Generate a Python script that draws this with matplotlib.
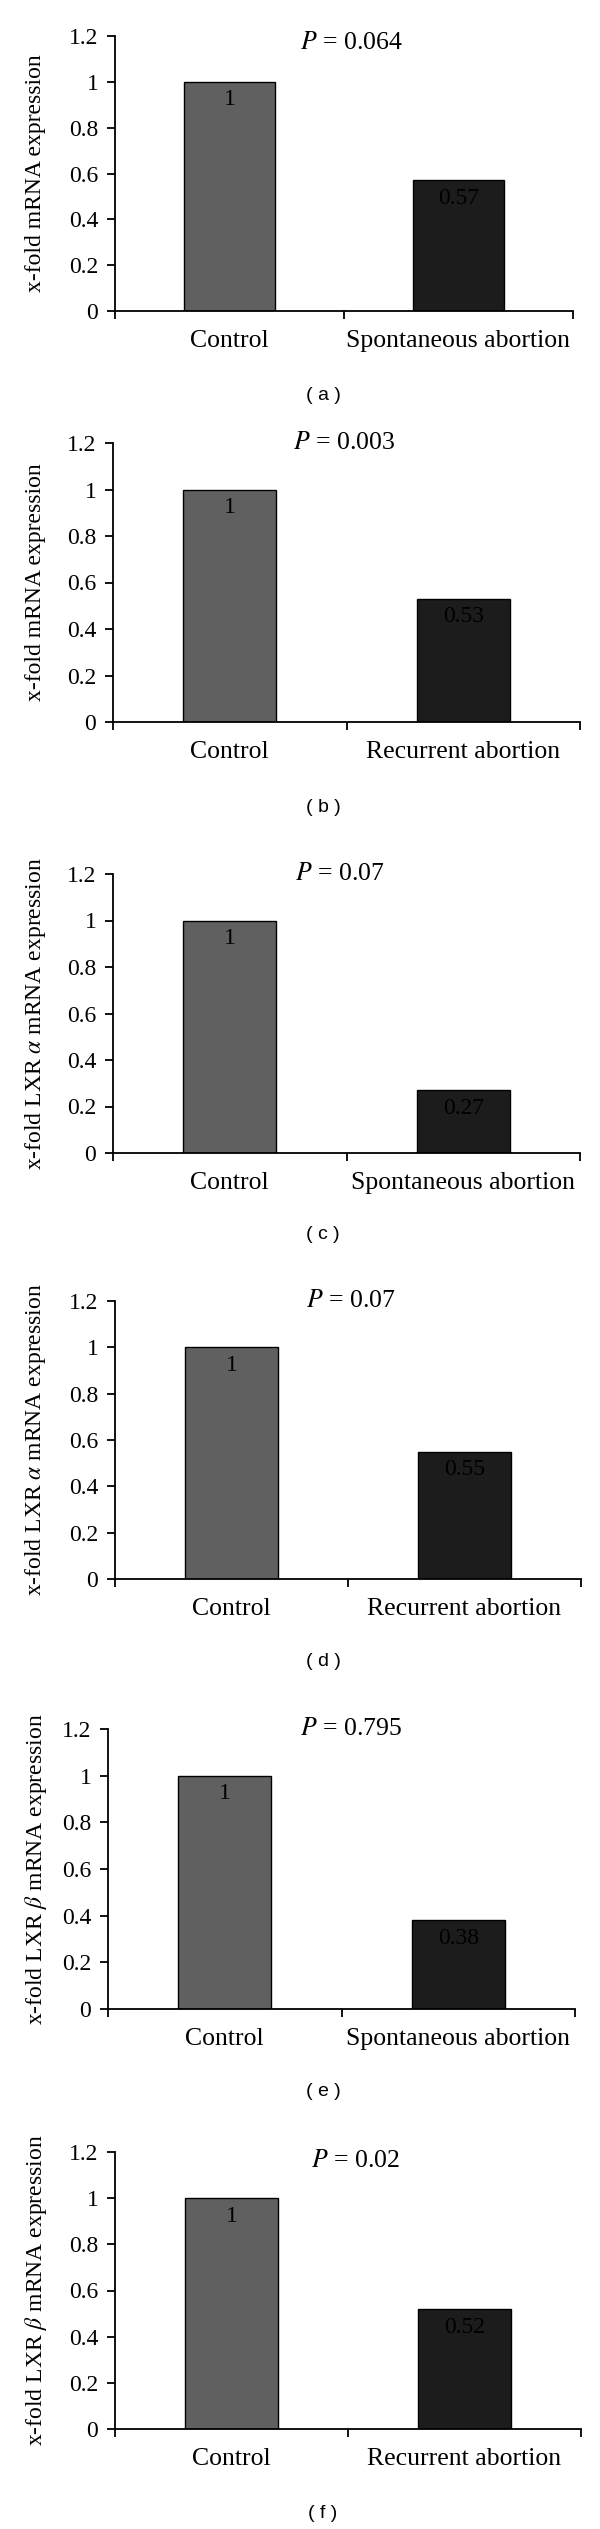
import matplotlib
matplotlib.use("Agg")
import matplotlib.pyplot as plt
from matplotlib.ticker import FuncFormatter

# ---- data ----
cats_spont = ["Control", "Spontaneous abortion"]
cats_recur = ["Control", "Recurrent abortion"]

values_a = [1, 0.57]
values_b = [1, 0.53]
values_c = [1, 0.27]
values_d = [1, 0.55]
values_e = [1, 0.38]
values_f = [1, 0.52]

p_values = ["0.064", "0.003", "0.07", "0.07", "0.795", "0.02"]
panel_letters = ["a", "b", "c", "d", "e", "f"]
ylabels = [
    "x-fold mRNA expression",
    "x-fold mRNA expression",
    r"x-fold LXR $\alpha$ mRNA expression",
    r"x-fold LXR $\alpha$ mRNA expression",
    r"x-fold LXR $\beta$ mRNA expression",
    r"x-fold LXR $\beta$ mRNA expression",
]
yticks = [0, 0.2, 0.4, 0.6, 0.8, 1, 1.2]

panels = [
    (cats_spont, values_a),
    (cats_recur, values_b),
    (cats_spont, values_c),
    (cats_recur, values_d),
    (cats_spont, values_e),
    (cats_recur, values_f),
]

# ---- layout in pixels (x-axis left, x-axis right, y at 1.2, y at 0) ----
axes_px = [
    (115, 573, 36, 311),
    (113, 580, 443, 722),
    (113, 580, 874, 1153),
    (115, 581, 1301, 1579),
    (108, 575, 1729, 2009),
    (115, 581, 2152, 2429),
]
p_pos = [(0.53, 1.17), (0.49, 1.20), (0.47, 1.20), (0.51, 1.20), (0.54, 1.20), (0.53, 1.16)]
letter_y = [395, 807, 1235, 1662, 2092, 2513]

W, H = 600, 2529
plt.rcParams["font.family"] = ["Liberation Serif", "DejaVu Serif"]
plt.rcParams["mathtext.fontset"] = "stix"

fig = plt.figure(figsize=(W / 100, H / 100), dpi=100)
bar_colors = ["#606060", "#1c1c1c"]

for i, (cats, vals) in enumerate(panels):
    x0, x1, ytop, ybot = axes_px[i]
    ax = fig.add_axes([x0 / W, 1 - ybot / H, (x1 - x0) / W, (ybot - ytop) / H])
    xs = list(range(len(cats)))
    ax.bar(xs, vals, width=0.4, color=bar_colors, edgecolor="black", linewidth=1.0)
    ax.set_xlim(-0.5, 1.5)
    ax.set_ylim(0, 1.2)

    ax.spines["top"].set_visible(False)
    ax.spines["right"].set_visible(False)
    ax.spines["left"].set_linewidth(1.3)
    ax.spines["bottom"].set_linewidth(1.3)

    ax.set_yticks(yticks)
    ax.yaxis.set_major_formatter(FuncFormatter(lambda v, _: f"{v:g}"))
    ax.tick_params(axis="y", length=6, width=1.3, labelsize=17, pad=6)

    ax.set_xticks(xs)
    ax.set_xticklabels(cats)
    ax.tick_params(axis="x", which="major", length=0, labelsize=18.5, pad=14)
    ax.set_xticks([-0.5, 0.5, 1.5], minor=True)
    ax.tick_params(axis="x", which="minor", length=6, width=1.3)

    for x, v in zip(xs, vals):
        ax.annotate(f"{v:g}", (x, v), xytext=(0, -13), textcoords="offset points",
                    ha="center", va="center", fontsize=17, color="black")

    px, py = p_pos[i]
    ax.text(px, py, f"$P$ = {p_values[i]}", ha="center", va="center", fontsize=18.5)

    fig.text(36 / W, 1 - (ytop + ybot) / 2 / H, ylabels[i], rotation=90,
             ha="center", va="center", fontsize=17)
    fig.text(323 / W, 1 - letter_y[i] / H, f"( {panel_letters[i]} )",
             ha="center", va="center", fontsize=14, family=["Liberation Sans", "DejaVu Sans"])

fig.savefig("out.png", dpi=100)
